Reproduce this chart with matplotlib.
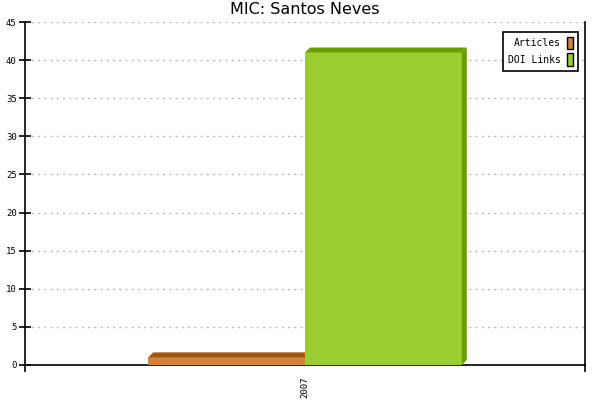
import matplotlib.pyplot as plt
from matplotlib.patches import Polygon, Rectangle
import numpy as np

# data
years = ['2007']
articles = [1]
doi_links = [41]
series_names = ['Articles', 'DOI Links']

front_cols = ['#CD853F', '#9ACD32']
dark_cols = ['#A0560F', '#6A9E00']

fig = plt.figure(figsize=(6, 4), dpi=100)
ax = fig.add_axes([25 / 600, 35 / 400, 560 / 600, 343 / 400])

ymax = 45
ax.set_xlim(-0.5, len(years) - 0.5)
ax.set_ylim(0, ymax)

width = 0.28
# depth of the 3d effect, 5 px each way
dx = 5 / 560 * len(years)
dy = 5 / 343 * ymax

x = np.arange(len(years))
for k, vals in enumerate([articles, doi_links]):
    offs = -width / 2 if k == 0 else width / 2
    bars = ax.bar(x + offs, vals, width, color=front_cols[k], linewidth=0, zorder=3)
    for b in bars:
        x0 = b.get_x()
        x1 = x0 + b.get_width()
        v = b.get_height()
        top = Polygon([(x0, v), (x0 + dx, v + dy), (x1 + dx, v + dy), (x1, v)],
                      closed=True, color=dark_cols[k], linewidth=0, zorder=3)
        side = Polygon([(x1, 0), (x1, v), (x1 + dx, v + dy), (x1 + dx, dy)],
                       closed=True, color=dark_cols[k], linewidth=0, zorder=3)
        ax.add_patch(top)
        ax.add_patch(side)

mono = 'DejaVu Sans Mono'

ax.set_yticks(np.arange(0, ymax + 1, 5))
ax.set_yticklabels([str(v) for v in range(0, ymax + 1, 5)], fontfamily=mono, fontsize=6.5)
ax.tick_params(axis='y', direction='inout', length=8, width=1.2, pad=2)
ax.yaxis.grid(True, color='#bbbbbb', linestyle=(0, (1.5, 3)), linewidth=1)
ax.set_axisbelow(True)

ax.set_xticks(x)
ax.set_xticklabels(years, rotation=90, fontfamily=mono, fontsize=6.5)
ax.tick_params(axis='x', length=0, pad=8)
ax.set_xticks([-0.5, len(years) - 0.5], minor=True)
ax.tick_params(axis='x', which='minor', direction='out', length=5, width=1.2)

for s in ['left', 'bottom', 'right']:
    ax.spines[s].set_linewidth(1.2)
ax.spines['top'].set_visible(False)

handles = [Rectangle((0, 0), 1, 1, facecolor=c, edgecolor='black', linewidth=1) for c in front_cols]
leg = ax.legend(handles, series_names, loc='upper right', bbox_to_anchor=(0.9955, 0.985),
                markerfirst=False, prop={'family': mono, 'size': 7},
                handlelength=0.6, handleheight=1.6, handletextpad=0.6,
                borderpad=0.5, labelspacing=0.4, fancybox=False, framealpha=1,
                edgecolor='black')
leg.get_frame().set_linewidth(1.2)
for t in leg.get_texts():
    t.set_ha('right')

fig.suptitle('MIC: Santos Neves', fontsize=11.5, y=0.995, x=305 / 600)

fig.savefig('out.png', dpi=100)
